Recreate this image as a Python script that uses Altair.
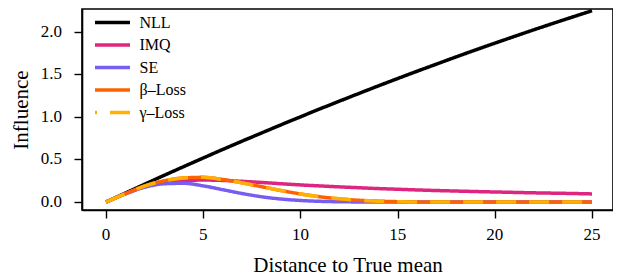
import altair as alt
import pandas as pd

# distance to true mean (x) and influence values
x_vals = list(range(0, 26))
nll = [0.0, 0.106, 0.211, 0.315, 0.417, 0.518, 0.618, 0.716, 0.812, 0.908, 1.002,
       1.095, 1.186, 1.276, 1.365, 1.452, 1.538, 1.622, 1.706, 1.788, 1.868,
       1.947, 2.025, 2.101, 2.176, 2.25]
imq = [0.0, 0.098, 0.18, 0.228, 0.252, 0.258, 0.254, 0.243, 0.23, 0.215, 0.201,
       0.189, 0.178, 0.168, 0.158, 0.15, 0.142, 0.135, 0.129, 0.123, 0.118,
       0.113, 0.108, 0.104, 0.1, 0.095]
se = [0.0, 0.097, 0.175, 0.215, 0.22, 0.19, 0.145, 0.1, 0.062, 0.035, 0.018,
      0.008, 0.003, 0.001, 0.0, 0.0, 0.0, 0.0, 0.0, 0.0, 0.0,
      0.0, 0.0, 0.0, 0.0, 0.0]
beta_loss = [0.0, 0.098, 0.19, 0.25, 0.283, 0.29, 0.265, 0.225, 0.18, 0.135, 0.095,
             0.062, 0.037, 0.02, 0.01, 0.004, 0.001, 0.0, 0.0, 0.0, 0.0,
             0.0, 0.0, 0.0, 0.0, 0.0]
gamma_loss = [0.0, 0.098, 0.19, 0.25, 0.283, 0.29, 0.265, 0.225, 0.18, 0.135, 0.095,
              0.062, 0.037, 0.02, 0.01, 0.004, 0.001, 0.0, 0.0, 0.0, 0.0,
              0.0, 0.0, 0.0, 0.0, 0.0]

series_names = ["NLL", "IMQ", "SE", "β–Loss", "γ–Loss"]
series_colors = ["#000000", "#DC267F", "#785EF0", "#FE6100", "#FFB000"]
series_dashes = [[1, 0], [1, 0], [1, 0], [1, 0], [20, 13]]
x_ticks = [0, 5, 10, 15, 20, 25]
x_tick_labels = ["0", "5", "10", "15", "20", "25"]
y_ticks = [0.0, 0.5, 1.0, 1.5, 2.0]
y_tick_labels = ["0.0", "0.5", "1.0", "1.5", "2.0"]

rows = []
for name, vals in zip(series_names, [nll, imq, se, beta_loss, gamma_loss]):
    for xv, v in zip(x_vals, vals):
        rows.append({"distance": xv, "influence": v, "series": name})
df = pd.DataFrame(rows)
x_tick_df = pd.DataFrame({"distance": x_ticks, "label": x_tick_labels})
y_tick_df = pd.DataFrame({"influence": y_ticks, "label": y_tick_labels})

FONT = "Liberation Serif"
FONT_EXPR = {"expr": "'Liberation Serif'"}

legend = alt.Legend(
    title=None, orient="none", legendX=20, legendY=3,
    symbolType="M-2,0L2,0", symbolSize=306, symbolStrokeWidth=3.5,
    symbolDashOffset=18,
    labelFont=FONT_EXPR, labelFontSize=16, labelColor="black", labelOffset=16.5,
    rowPadding=3.5, padding=0, labelLimit=200,
)

x_scale = alt.Scale(domain=[-1.24, 26.08], nice=False, zero=False)
y_scale = alt.Scale(domain=[-0.094, 2.27], nice=False, zero=False)
x_enc = alt.X("distance:Q", title="Distance to True mean", scale=x_scale,
              axis=alt.Axis(values=x_ticks, labels=False, titlePadding=36))
y_enc = alt.Y("influence:Q", title="Influence", scale=y_scale,
              axis=alt.Axis(values=y_ticks, labels=False, titlePadding=42))
color_enc = alt.Color("series:N", scale=alt.Scale(domain=series_names, range=series_colors),
                      legend=legend, title=None)
dash_enc = alt.StrokeDash("series:N", scale=alt.Scale(domain=series_names, range=series_dashes),
                          legend=legend, title=None)

layers = []
for name in series_names:
    layers.append(
        alt.Chart(df)
        .transform_filter(alt.datum.series == name)
        .mark_line(strokeWidth=3.5, interpolate="monotone", strokeCap="butt")
        .encode(x=x_enc, y=y_enc, color=color_enc, strokeDash=dash_enc)
    )

x_labels = alt.Chart(x_tick_df).mark_text(
    font=FONT, fontSize=17, color="black", align="center", baseline="top"
).encode(x=x_enc, y=alt.value(218), text="label:N")

y_labels = alt.Chart(y_tick_df).mark_text(
    font=FONT, fontSize=17, color="black", align="right", baseline="middle"
).encode(x=alt.value(-20), y=y_enc, text="label:N")

chart = (
    alt.layer(*layers, x_labels, y_labels)
    .properties(
        width=531, height=201,
        autosize=alt.AutoSizeParams(type="none"),
        padding={"left": 74, "top": 1, "right": 0, "bottom": 66},
    )
    .configure(font=FONT)
    .configure_view(stroke="black", strokeWidth=1.6)
    .configure_axis(
        grid=False, domainColor="black", domainWidth=1.6,
        tickColor="black", tickWidth=1.4, tickSize=8,
        titleFont=FONT, titleFontSize=21, titleColor="black", titleFontWeight="normal",
    )
)

chart.save("out.html", embed_options={"renderer": "svg", "actions": False})
